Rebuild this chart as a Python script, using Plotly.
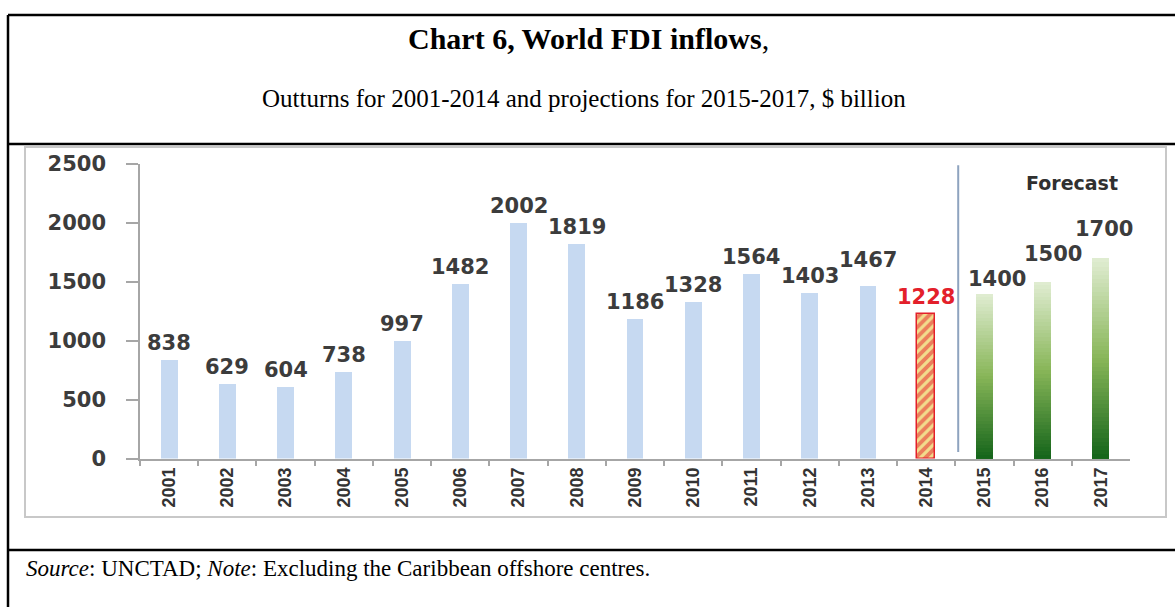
import plotly.graph_objects as go

# ---------------- data ----------------
years = ["2001", "2002", "2003", "2004", "2005", "2006", "2007", "2008", "2009",
         "2010", "2011", "2012", "2013", "2014", "2015", "2016", "2017"]
outturn_years = years[:13]
outturn_values = [838, 629, 604, 738, 997, 1482, 2002, 1819, 1186, 1328, 1564, 1403, 1467]
estimate_year = ["2014"]
estimate_value = [1228]
forecast_years = ["2015", "2016", "2017"]
forecast_values = [1400, 1500, 1700]
y_ticks = [0, 500, 1000, 1500, 2000, 2500]

title_text = "<b>Chart 6, World FDI inflows</b>,"
subtitle_text = "Outturns for 2001-2014 and projections for 2015-2017, $ billion"
source_text = "<i>Source</i>: UNCTAD; <i>Note</i>: Excluding the Caribbean offshore centres."

# ---------------- styles ----------------
W, H = 1175, 607
BLUE = "#C6D9F1"
RED = "#E3202B"
HATCH_BG = "#F2DC8C"
LABEL_COLOR = "#3C3C3C"
AXIS_GRAY = "#A6A6A6"
NUM_FONT = dict(family="DejaVu Sans", size=21, color=LABEL_COLOR, weight="bold")
YEAR_FONT = dict(family="Liberation Sans, Arial, sans-serif",
                 size=18, color="#333333", weight="bold")
SERIF = "Liberation Serif, Times New Roman, serif"
BAR_W = 0.29


def px(x):
    return x / W


def py(y):
    return 1 - y / H


def mix(c1, c2, t):
    a = [int(c1[i:i + 2], 16) for i in (1, 3, 5)]
    b = [int(c2[i:i + 2], 16) for i in (1, 3, 5)]
    return "rgb(%d,%d,%d)" % tuple(round(a[i] + (b[i] - a[i]) * t) for i in range(3))


def green_at(f):
    # f = 1 at the top of the bar (light), 0 at the bottom (dark)
    top, mid, bot = "#E1EDD3", "#88B658", "#14641A"
    if f >= 0.5:
        return mix(mid, top, (f - 0.5) / 0.5)
    return mix(bot, mid, f / 0.5)


fig = go.Figure()

# outturn bars
fig.add_trace(go.Bar(x=outturn_years, y=outturn_values, width=BAR_W,
                     marker=dict(color=BLUE, line=dict(width=0)), showlegend=False))

# 2014 estimate (hatched)
fig.add_trace(go.Bar(x=estimate_year, y=estimate_value, width=BAR_W * 1.05,
                     marker=dict(color=HATCH_BG,
                                 pattern=dict(shape="/", fgcolor=RED, bgcolor=HATCH_BG,
                                              size=7, solidity=0.55),
                                 line=dict(color=RED, width=1.5)),
                     showlegend=False))

# forecast bars rendered with a vertical gradient: overlapping layers of each bar
N = 48
for k in range(N):
    frac = (N - k) / N
    fig.add_trace(go.Bar(x=forecast_years, y=[v * frac for v in forecast_values],
                         width=BAR_W, marker=dict(color=green_at(frac - 0.5 / N), line=dict(width=0)),
                         showlegend=False, hoverinfo="skip"))

# value labels (category index positions on the category axis)
label_dx = [0] * 13 + [0] + [13, 10, 3]
label_dy = [0] * 12 + [9] + [0] + [-2, 11, 12]
all_vals = outturn_values + estimate_value + forecast_values
for i, (yr, v) in enumerate(zip(years, all_vals)):
    col = RED if yr in estimate_year else LABEL_COLOR
    fig.add_annotation(x=i, y=v, text=str(v), showarrow=False, xref="x", yref="y",
                       yanchor="bottom", xanchor="center", yshift=3 + label_dy[i],
                       xshift=label_dx[i], font=dict(NUM_FONT, color=col))

# Forecast separator and label
fig.add_shape(type="line", xref="x", yref="y", x0=13.55, x1=13.55, y0=55, y1=2490,
              line=dict(color="#8EA3BF", width=2))
fig.add_annotation(x=15.5, y=2340, xref="x", yref="y", text="Forecast", showarrow=False,
                   xanchor="center", yanchor="middle",
                   font=dict(family="DejaVu Sans", size=19, color="#303030", weight="bold"))

# inner chart frame
fig.add_shape(type="rect", xref="paper", yref="paper", x0=px(25), x1=px(1166),
              y0=py(517), y1=py(147), line=dict(color="#C8C8C8", width=2), layer="below")

# document table borders
black = dict(color="black", width=2.5)
for (x0, y0, x1, y1) in [(8, 15, W + 5, 15), (8, 144, W + 5, 144), (8, 550, W + 5, 550),
                         (8, 15, 8, H + 5)]:
    fig.add_shape(type="line", xref="paper", yref="paper", x0=px(x0), x1=px(x1),
                  y0=py(y0), y1=py(y1), line=black)

# texts
fig.add_annotation(x=px(588), y=py(38), xref="paper", yref="paper", text=title_text,
                   xanchor="center", yanchor="middle",
                   showarrow=False, font=dict(family=SERIF, size=30, color="black"))
fig.add_annotation(x=px(584), y=py(98), xref="paper", yref="paper", text=subtitle_text,
                   xanchor="center", yanchor="middle",
                   showarrow=False, font=dict(family=SERIF, size=25, color="black"))
fig.add_annotation(x=px(24), y=py(568), xref="paper", yref="paper", text=source_text,
                   xanchor="left", yanchor="middle",
                   showarrow=False, font=dict(family=SERIF, size=23, color="black"))

fig.update_layout(
    width=W, height=H,
    margin=dict(l=0, r=0, t=0, b=0, autoexpand=False),
    paper_bgcolor="white", plot_bgcolor="white",
    barmode="overlay", bargap=0,
    showlegend=False,
    xaxis=dict(domain=[px(140), px(1130)], type="category", categoryorder="array",
               categoryarray=years, range=[-0.5, 16.5],
               showline=True, linecolor=AXIS_GRAY, linewidth=1.5,
               ticks="outside", ticklen=6, tickcolor=AXIS_GRAY, tickwidth=1.5,
               tickson="boundaries", tickangle=-90, tickfont=YEAR_FONT,
               showgrid=False, zeroline=False, fixedrange=True),
    yaxis=dict(domain=[py(458.5), py(164)], range=[0, 2500], tickvals=y_ticks,
               showline=True, linecolor=AXIS_GRAY, linewidth=1.5,
               ticks="outside", ticklen=12, tickcolor=AXIS_GRAY, tickwidth=1.5,
               tickfont=NUM_FONT, ticklabelstandoff=16,
               showgrid=False, zeroline=False, fixedrange=True),
)

fig.write_html("out.html")
